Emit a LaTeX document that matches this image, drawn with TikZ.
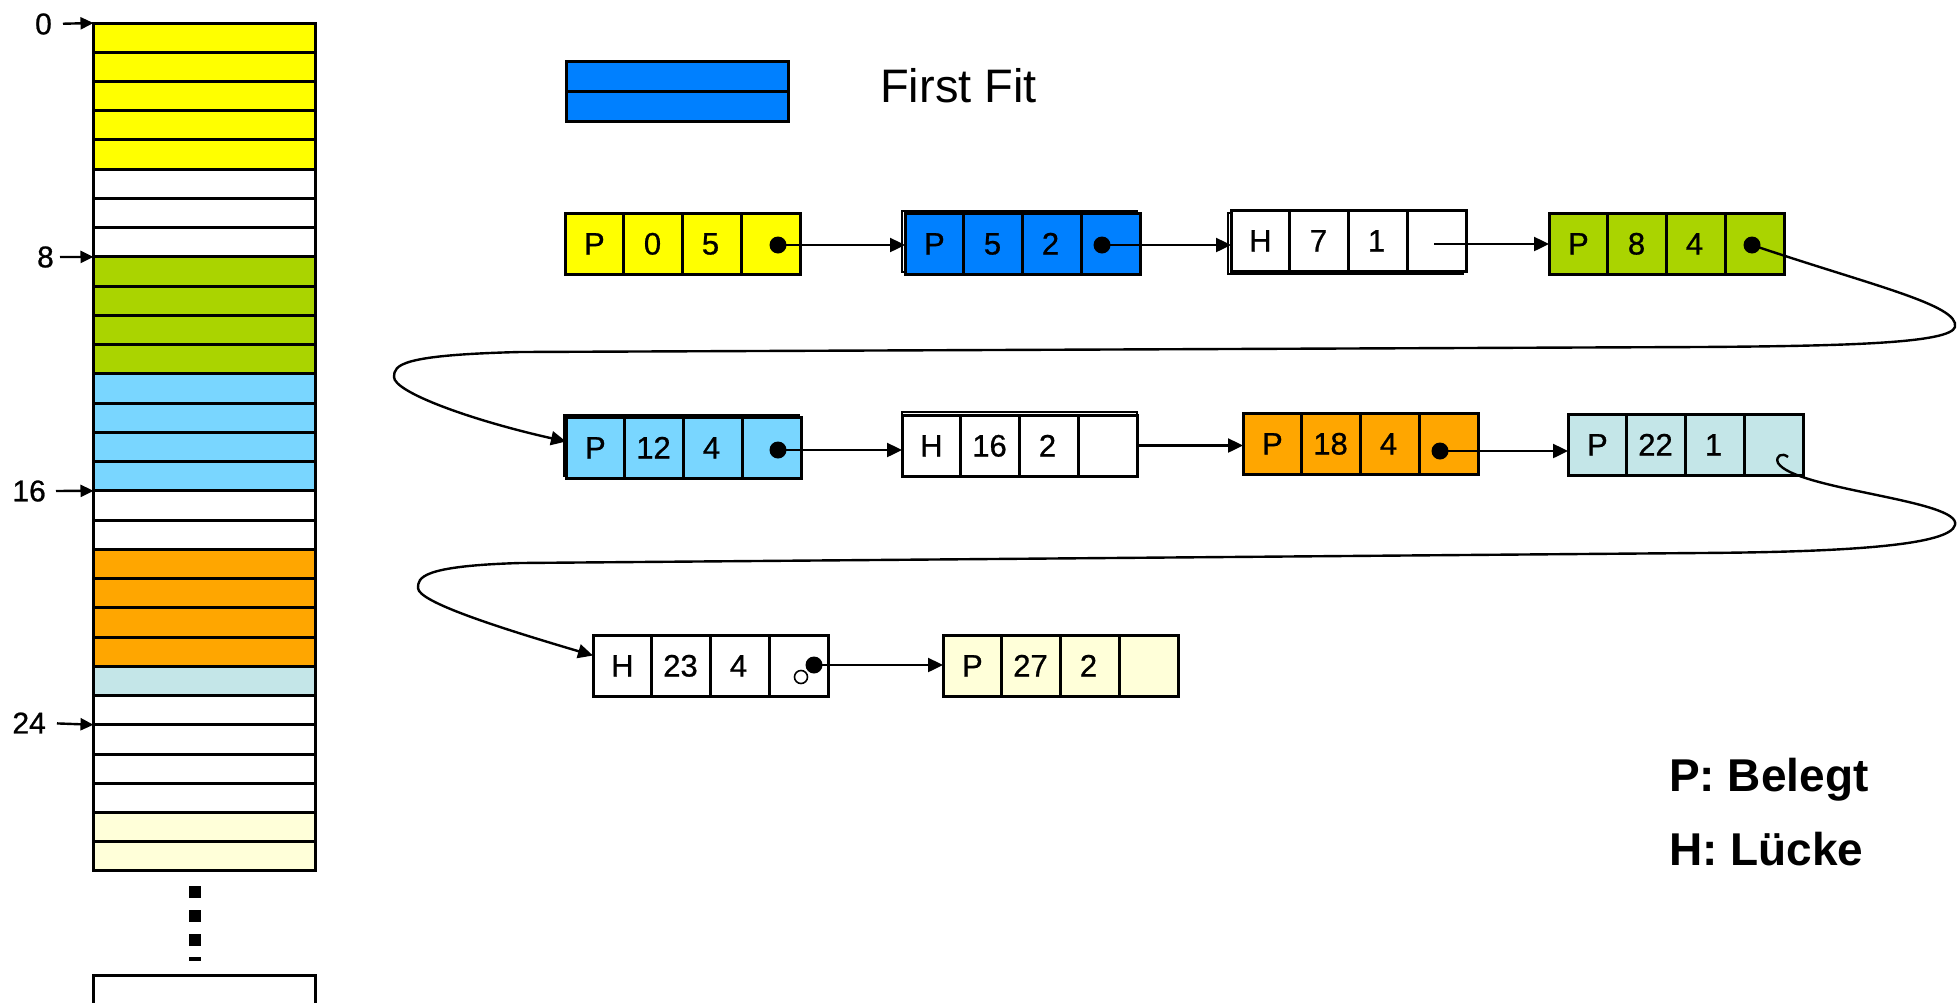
\documentclass[tikz,border=0pt]{standalone}
\usepackage{fontspec}
\setmainfont{Liberation Sans}
\newfontfamily\heavyfont[FakeBold=0.8]{Liberation Sans}
\usetikzlibrary{arrows.meta,calc,shapes.geometric,backgrounds}
\definecolor{cYel}{RGB}{255,255,0}
\definecolor{cBlue}{RGB}{0,128,255}
\definecolor{cGreen}{RGB}{170,212,0}
\definecolor{cLBlue}{RGB}{121,214,255}
\definecolor{cOrange}{RGB}{255,166,0}
\definecolor{cCyan}{RGB}{196,230,232}
\definecolor{cPale}{RGB}{255,255,217}
\tikzset{
 memrow/.style={draw, line width=3pt, minimum width=222pt, minimum height=29.24pt, inner sep=0pt, outer sep=0pt, anchor=north west},
 lbox/.style={draw, line width=3pt, minimum width=235pt, minimum height=61pt, inner sep=0pt, outer sep=0pt, anchor=north west},
 cellline/.style={line width=2.6pt},
 celltext/.style={font=\heavyfont\fontsize{31}{37}\selectfont, inner sep=0pt, text height=22pt, text depth=0pt},
 ptr/.style={line width=2.4pt, -{Triangle[length=15pt,width=14pt]}},
 lblarr/.style={line width=2.4pt, -{Triangle[length=13pt,width=12pt]}},
 ptrdot/.style={circle, fill=black, inner sep=0pt, minimum size=17pt},
 idx/.style={font=\heavyfont\fontsize{30}{36}\selectfont, inner sep=0pt, anchor=east},
 shadowline/.style={line width=2pt},
}
\newcommand\ListBox[7]{%
 \node[lbox, fill=#4] (#1) at (#2,#3) {};
 \foreach \k in {1,2,3}{\draw[cellline] ($(#1.north west)+(\k*58.75,0)$) -- ($(#1.south west)+(\k*58.75,0)$);}
 \node[celltext] (#1-1) at ($(#1.west)+(29.4,0)$) {#5};
 \node[celltext] (#1-2) at ($(#1.west)+(87.5,0)$) {#6};
 \node[celltext] (#1-3) at ($(#1.west)+(145.5,0)$) {#7};
}
\begin{document}
\begin{tikzpicture}[x=1pt,y=-1pt]
\useasboundingbox (0,0) rectangle (1959,1002);

% memory column
\foreach \i/\c in {0/cYel,1/cYel,2/cYel,3/cYel,4/cYel,5/white,6/white,7/white,
  8/cGreen,9/cGreen,10/cGreen,11/cGreen,12/cLBlue,13/cLBlue,14/cLBlue,15/cLBlue,
  16/white,17/white,18/cOrange,19/cOrange,20/cOrange,21/cOrange,22/cCyan,
  23/white,24/white,25/white,26/white,27/cPale,28/cPale}
  {\node[memrow, fill=\c] (m\i) at (93.5,{23+29.24*\i}) {};}

\node[idx] (i0) at (52,24) {0};
\node[idx] (i8) at (54,257) {8};
\node[idx] (i16) at (46,491) {16};
\node[idx] (i24) at (46,723) {24};
\draw[lblarr, shorten <=11pt] (i0.east) -- (m0.north west);
\draw[lblarr, shorten <=6pt] (i8.east) -- (m8.north west);
\draw[lblarr, shorten <=10pt] (i16.east) -- (m16.north west);
\draw[lblarr, shorten <=11pt] (i24.east) -- (m24.north west);

\foreach \j/\yy in {0/892,1/916,2/940}
  {\node[fill=black, minimum size=12pt, inner sep=0pt] (dd\j) at (195,\yy) {};}
\node[fill=black, minimum width=12pt, minimum height=4pt, inner sep=0pt] (dd3) at (195,959) {};
\draw[line width=3pt] (93.5,1010) |- (315.5,975) -- (315.5,1010);

% legend
\node[draw, line width=2.6pt, fill=cBlue, minimum width=222pt, minimum height=30pt, anchor=north west, inner sep=0pt] (lg1) at (565,60) {};
\node[draw, line width=2.6pt, fill=cBlue, minimum width=222pt, minimum height=30pt, anchor=north west, inner sep=0pt] (lg2) at (565,90) {};
\node[font=\fontsize{47}{56}\selectfont, anchor=west, inner sep=0pt] (ff) at (880,86) {First Fit};
\node[font=\bfseries\fontsize{46}{55}\selectfont, anchor=base west, inner sep=0pt] (lp) at (1669,791) {P: Belegt};
\node[font=\bfseries\fontsize{46}{55}\selectfont, anchor=base west, inner sep=0pt] (lh) at (1669,865) {H: Lücke};

% list elements
\ListBox{y0}{565}{213}{cYel}{P}{0}{5}
\ListBox{b5}{905}{213}{cBlue}{P}{5}{2}
\ListBox{h7}{1231}{210}{white}{H}{7}{1}
\ListBox{g8}{1549}{213}{cGreen}{P}{8}{4}
\ListBox{l12}{566}{417}{cLBlue}{P}{12}{4}
\ListBox{h16}{902}{415}{white}{H}{16}{2}
\ListBox{o18}{1243}{413}{cOrange}{P}{18}{4}
\ListBox{c22}{1568}{414}{cCyan}{P}{22}{1}
\ListBox{h23}{593}{635}{white}{H}{23}{4}
\ListBox{y27}{943}{635}{cPale}{P}{27}{2}

\begin{scope}[on background layer]
 \draw[shadowline] ([xshift=-3pt,yshift=2pt]b5.north west) rectangle ([xshift=-3pt,yshift=2pt]b5.south east);
 \draw[shadowline] ([xshift=-3pt,yshift=-3pt]h7.north west) rectangle ([xshift=-3pt,yshift=-3pt]h7.south east);
 \draw[shadowline] ([xshift=-2pt,yshift=2pt]l12.north west) rectangle ([xshift=-2pt,yshift=2pt]l12.south east);
 \draw[shadowline] ([yshift=3pt]h16.north west) rectangle ([yshift=3pt]h16.south east);
\end{scope}

% pointers
\node[ptrdot] (y0d) at (778,245) {};
\node[ptrdot] (b5d) at (1102,245) {};
\node[ptrdot] (g8d) at (1752,245) {};
\node[ptrdot] (l12d) at (778,450) {};
\node[ptrdot] (o18d) at (1440,451) {};
\node[circle, draw, fill=white, line width=1.6pt, minimum size=13pt, inner sep=0pt] (h23o) at (801,677) {};
\node[ptrdot] (h23d) at (814,665) {};
\coordinate (h7p) at (1434,244);
\coordinate (c22p) at (1788,457);

\draw[ptr] (y0d.center) -- (b5.west |- y0d);
\draw[ptr] (b5d.center) -- (h7.west |- b5d);
\draw[ptr] (h7p) -- (g8.west |- h7p);
\draw[ptr] (l12d.center) -- (h16.west |- l12d);
\draw[ptr] (h16.east) -- (o18.west |- h16.east);
\draw[ptr] (o18d.center) -- (c22.west |- o18d);
\draw[ptr] (h23d.center) -- (y27.west |- h23d);

\draw[ptr] (g8d.center) .. controls (1870,285) and (1960,305) .. (1955,327)
  .. controls (1950,343) and (1850,346) .. (1700,347) -- (520,352)
  .. controls (400,355) and (394,365) .. (394,377)
  .. controls (394,392) and (470,420) .. ([yshift=6pt]l12.west);
\draw[ptr] (c22p) .. controls (1782,452) and (1775,456) .. (1778,463)
  .. controls (1795,490) and (1962,500) .. (1955,525)
  .. controls (1950,545) and (1850,552) .. (1700,553) -- (520,563)
  .. controls (420,566) and (418,578) .. (418,588)
  .. controls (418,602) and (500,628) .. ([yshift=10pt]h23.west);
\end{tikzpicture}
\end{document}
